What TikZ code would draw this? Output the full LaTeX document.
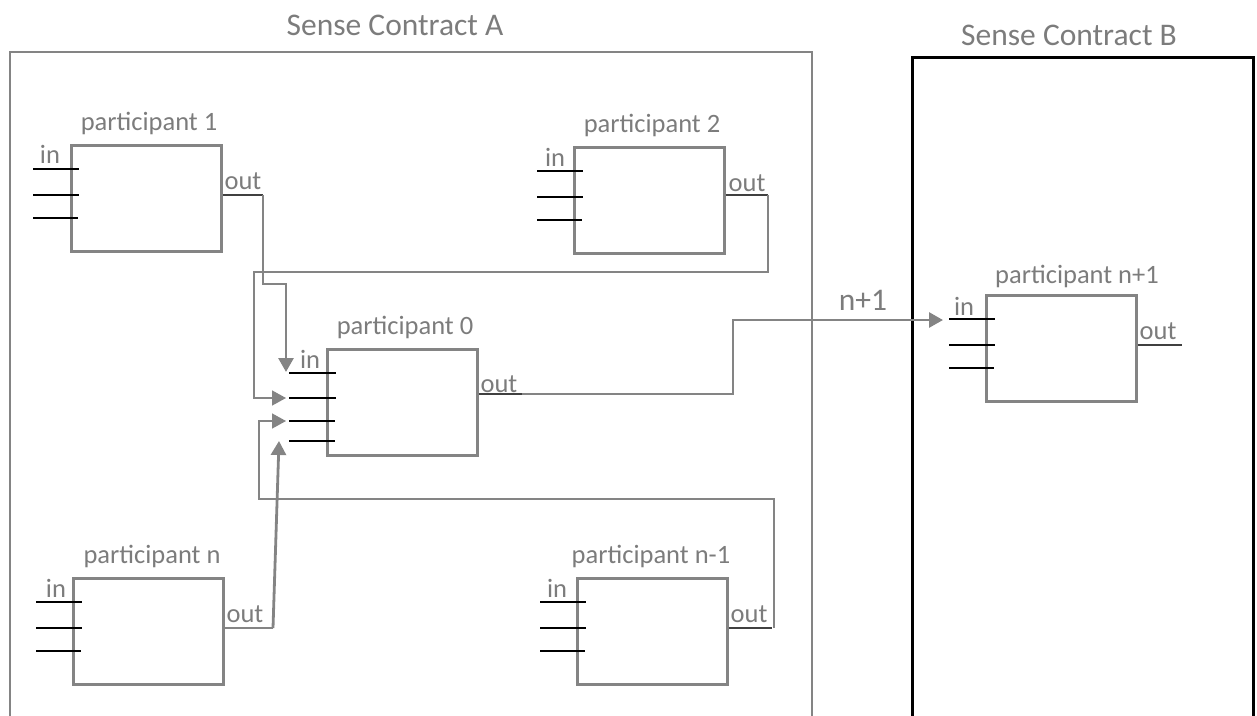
\documentclass[tikz,border=0pt]{standalone}
\usepackage{fontspec}
\setmainfont{Carlito}
\usetikzlibrary{arrows.meta}
\definecolor{gr}{HTML}{7C7C7C}
\definecolor{bx}{HTML}{848484}
\tikzset{
  pbox/.style={draw=bx, line width=2.8pt, minimum width=150pt, minimum height=106pt, inner sep=0pt, anchor=north west},
  lbl/.style={text=gr, font=\fontsize{26.5}{32}\selectfont, inner sep=0pt, anchor=base},
  big/.style={text=gr, font=\fontsize{31.5}{38}\selectfont, inner sep=0pt, anchor=base},
  port/.style={draw=black, line width=1.3pt},
  outp/.style={draw=black!75, line width=1.6pt},
  wire/.style={draw=bx, line width=2.8pt},
  thinwire/.style={draw=bx, line width=1.5pt},
  arr/.style={-{Triangle[length=14pt,width=15pt]}},
  contA/.style={draw=bx, line width=2pt},
  contB/.style={draw=black, line width=3pt}
}
\begin{document}
\begin{tikzpicture}[x=1pt,y=-1pt]
\useasboundingbox (0,0) rectangle (1257,715);
% containers
\draw[contA] (10,716) -- (10,52) -- (812,52) -- (812,716);
\draw[contB] (912,716) -- (912,57) -- (1253,57) -- (1253,716);
\node[big] (tA) at (395,35) {Sense Contract A};
\node[big] (tB) at (1069,45) {Sense Contract B};

% participant boxes
\node[pbox] (p1) at (70,144) {};
\node[pbox] (p2) at (573,146) {};
\node[pbox] (p0) at (326,348) {};
\node[pbox] (pn) at (72,577) {};
\node[pbox] (pm) at (576,577) {};
\node[pbox] (pp) at (985,294) {};

% titles
\node[lbl] (l1) at (149,130) {participant 1};
\node[lbl] (l2) at (652,132) {participant 2};
\node[lbl] (l0) at (405,334) {participant 0};
\node[lbl] (ln) at (152,563) {participant n};
\node[lbl] (lm) at (651,563) {participant n-1};
\node[lbl] (lp) at (1077,283) {participant n+1};

% in labels
\node[lbl] (i1) at (50,163) {in};
\node[lbl] (i2) at (555,166) {in};
\node[lbl] (i0) at (310,368) {in};
\node[lbl] (in) at (56,597) {in};
\node[lbl] (im) at (557,597) {in};
\node[lbl] (ip) at (964,315) {in};

% out labels
\node[lbl] (o1) at (243,189) {out};
\node[lbl] (o2) at (747,191) {out};
\node[lbl] (o0) at (499,392) {out};
\node[lbl] (on) at (245,622) {out};
\node[lbl] (om) at (749,622) {out};
\node[lbl] (op) at (1158,339) {out};

% input ports
\foreach \b/\x/\y in {p1/33/144, p2/537/146, pn/36/577, pm/540/577, pp/949/294}{
  \draw[port] (\x,\y+25) -- ++(46,0);
  \draw[port] (\x,\y+51) -- ++(46,0);
  \draw[port] (\x,\y+74) -- ++(45,0);
}
\draw[port] (289,373) -- (336,373);
\draw[port] (289,398) -- (336,398);
\draw[port] (289,421) -- (335,421);
\draw[port] (289,441) -- (335,441);

% output ports
\coordinate (p1o) at (263,195);
\coordinate (p2o) at (768,195);
\coordinate (p0o) at (522,394);
\coordinate (pno) at (273,628);
\coordinate (pmo) at (774,628);
\draw[outp] (p1.east |- p1o) -- (p1o);
\draw[outp] (p2.east |- p2o) -- (p2o);
\draw[outp] (p0.east |- p0o) -- (p0o);
\draw[wire] (pn.east |- pno) -- (pno);
\draw[outp] (pm.east |- pmo) -- (772,628);
\draw[outp] (pp.east |- 0,345) -- (1182,345);

% arrow targets
\coordinate (a1) at (286,372);
\coordinate (a2) at (286,398);
\coordinate (a3) at (286,421);
\coordinate (a4) at (279,441);
\coordinate (a5) at (943,320);

% connectors
\draw[wire,arr] (p1o) -- (263,284) -- (286,284) -- (a1);
\draw[thinwire,arr] (p2o) -- (768,272) -- (254,272) -- (254,398) -- (a2);
\draw[thinwire,arr] (pmo) -- (774,499) -- (259,499) -- (259,421) -- (a3);
\draw[wire,arr] (pno) -- (a4);
\draw[wire,arr] (p0o) -- (733,394) -- (733,320) -- (a5);
\node[big] (nn) at (863,310) {n+1};
\end{tikzpicture}
\end{document}
